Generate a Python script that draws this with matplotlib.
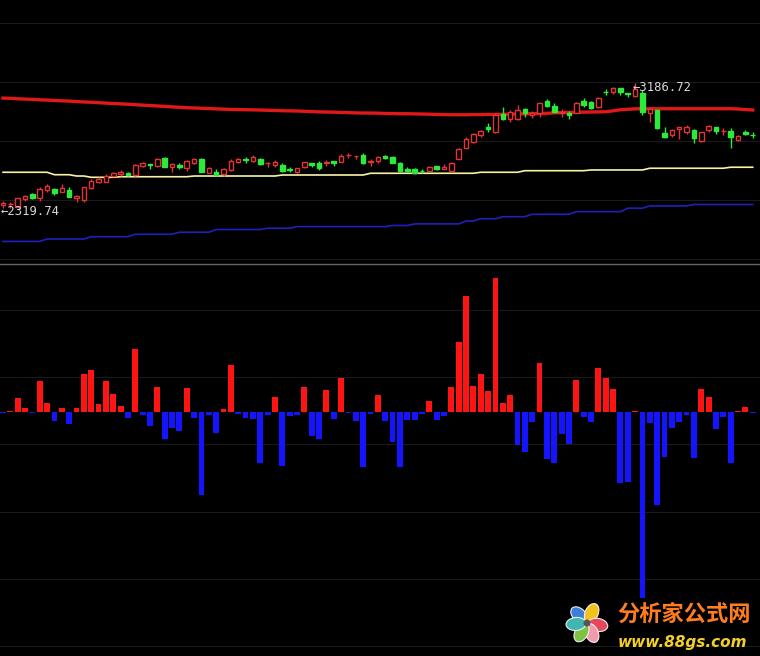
import numpy as np
import matplotlib
matplotlib.use('Agg')
import matplotlib.pyplot as plt
from matplotlib.patches import Ellipse, Circle

# candle data (price)
opens = [2341, 2344, 2327, 2382, 2417, 2391, 2445, 2452, 2433, 2445,
         2391, 2375, 2459, 2503, 2503, 2544, 2556, 2565, 2549, 2614,
         2624, 2614, 2669, 2603, 2621, 2598, 2635, 2660, 2565, 2572,
         2556, 2584, 2638, 2658, 2647, 2660, 2630, 2619, 2619, 2591,
         2572, 2603, 2635, 2630, 2630, 2649, 2642, 2686, 2679, 2688,
         2642, 2647, 2681, 2672, 2630, 2593, 2589, 2579, 2579, 2612,
         2589, 2579, 2660, 2739, 2777, 2827, 2881, 2846, 2971, 2938,
         2937, 3006, 2966, 2978, 3066, 3029, 2980, 2978, 2982, 3064,
         3055, 3020, 3129, 3129, 3152, 3121, 3098, 3117, 2978, 3001,
         2843, 2827, 2869, 2846, 2862, 2786, 2862, 2885, 2853, 2855,
         2792, 2850, 2829]
highs = [2368, 2361, 2391, 2410, 2426, 2466, 2486, 2457, 2486, 2468,
         2410, 2468, 2519, 2537, 2554, 2572, 2584, 2572, 2626, 2642,
         2626, 2665, 2676, 2633, 2635, 2654, 2665, 2665, 2607, 2589,
         2596, 2658, 2669, 2676, 2688, 2665, 2642, 2653, 2630, 2607,
         2596, 2642, 2635, 2649, 2653, 2649, 2693, 2700, 2683, 2700,
         2658, 2683, 2688, 2681, 2642, 2603, 2596, 2589, 2612, 2614,
         2624, 2642, 2735, 2811, 2839, 2862, 2909, 2978, 3024, 3001,
         3036, 3013, 2994, 3059, 3076, 3048, 3006, 2994, 3055, 3083,
         3064, 3094, 3145, 3163, 3152, 3121, 3186.72, 3140, 3013, 3006,
         2881, 2867, 2885, 2897, 2867, 2850, 2897, 2885, 2874, 2874,
         2827, 2862, 2846]
lows = [2319.74, 2323, 2325, 2370, 2380, 2371, 2433, 2410, 2429, 2394,
        2364, 2360, 2452, 2496, 2499, 2533, 2542, 2542, 2544, 2607,
        2591, 2607, 2603, 2572, 2589, 2579, 2626, 2568, 2561, 2544,
        2544, 2579, 2630, 2630, 2637, 2619, 2607, 2603, 2568, 2568,
        2565, 2598, 2607, 2584, 2614, 2612, 2637, 2665, 2660, 2626,
        2612, 2635, 2660, 2630, 2572, 2572, 2554, 2563, 2577, 2584,
        2589, 2579, 2658, 2735, 2770, 2811, 2846, 2839, 2932, 2920,
        2932, 2950, 2943, 2955, 3024, 2985, 2955, 2939, 2978, 3024,
        3008, 3013, 3105, 3110, 3105, 3089, 3094, 2966, 2920, 2869,
        2809, 2816, 2797, 2834, 2774, 2781, 2846, 2832, 2827, 2739,
        2786, 2827, 2804]
closes = [2357, 2348, 2389, 2403, 2391, 2452, 2473, 2424, 2459, 2396,
          2405, 2466, 2509, 2521, 2544, 2563, 2570, 2549, 2619, 2635,
          2621, 2660, 2607, 2626, 2603, 2647, 2660, 2572, 2596, 2549,
          2589, 2649, 2660, 2653, 2676, 2624, 2633, 2642, 2577, 2584,
          2596, 2638, 2619, 2596, 2642, 2635, 2683, 2688, 2681, 2630,
          2649, 2672, 2665, 2635, 2579, 2577, 2561, 2577, 2607, 2591,
          2603, 2635, 2730, 2799, 2832, 2855, 2867, 2966, 2937, 2989,
          3001, 2978, 2978, 3052, 3029, 2989, 2985, 2966, 3048, 3036,
          3017, 3087, 3124, 3156, 3129, 3110, 3147, 2989, 3006, 2874,
          2816, 2862, 2885, 2881, 2804, 2846, 2892, 2855, 2855, 2811,
          2820, 2832, 2825]

# overlay lines
ma_red = [3084, 3082, 3079, 3077, 3075, 3072, 3070, 3067, 3065, 3063,
          3060, 3057, 3055, 3052, 3049, 3046, 3044, 3041, 3038, 3035,
          3032, 3029, 3026, 3023, 3020, 3017, 3015, 3013, 3011, 3009,
          3007, 3005, 3004, 3003, 3002, 3001, 2999, 2998, 2996, 2995,
          2994, 2992, 2990, 2988, 2987, 2986, 2984, 2983, 2981, 2980,
          2980, 2979, 2977, 2976, 2975, 2975, 2974, 2973, 2972, 2970,
          2969, 2968, 2968, 2968, 2969, 2969, 2970, 2970, 2971, 2972,
          2973, 2974, 2975, 2976, 2978, 2981, 2983, 2984, 2985, 2986,
          2987, 2988, 2989, 2995, 3003, 3006, 3009, 3010, 3010, 3010,
          3010, 3010, 3010, 3010, 3010, 3010, 3010, 3010, 3010, 3010,
          3008, 3004, 3001]
ma_yellow = [2568, 2568, 2568, 2568, 2568, 2568, 2568, 2551, 2551, 2551,
             2542, 2542, 2533, 2533, 2533, 2533, 2537, 2537, 2537, 2537,
             2537, 2537, 2537, 2537, 2537, 2537, 2542, 2542, 2542, 2542,
             2542, 2542, 2542, 2542, 2542, 2542, 2542, 2542, 2549, 2549,
             2549, 2549, 2549, 2549, 2549, 2549, 2549, 2549, 2549, 2549,
             2561, 2561, 2561, 2561, 2561, 2561, 2561, 2561, 2561, 2561,
             2561, 2561, 2561, 2561, 2561, 2568, 2568, 2568, 2568, 2568,
             2568, 2579, 2579, 2579, 2579, 2579, 2579, 2579, 2579, 2579,
             2584, 2584, 2584, 2584, 2584, 2584, 2584, 2584, 2596, 2596,
             2596, 2596, 2596, 2596, 2596, 2596, 2596, 2596, 2596, 2603,
             2603, 2603, 2603]
ma_blue = [2087, 2087, 2087, 2087, 2087, 2087, 2104, 2104, 2104, 2104,
           2104, 2104, 2120, 2120, 2120, 2120, 2120, 2120, 2137, 2137,
           2137, 2137, 2137, 2137, 2151, 2151, 2151, 2151, 2151, 2170,
           2170, 2170, 2170, 2170, 2170, 2170, 2179, 2179, 2179, 2179,
           2190, 2190, 2190, 2190, 2190, 2190, 2190, 2190, 2190, 2190,
           2190, 2190, 2190, 2198, 2198, 2198, 2209, 2209, 2209, 2209,
           2209, 2209, 2209, 2229, 2229, 2245, 2245, 2245, 2259, 2259,
           2259, 2259, 2276, 2276, 2276, 2276, 2276, 2276, 2294, 2294,
           2294, 2294, 2294, 2294, 2294, 2318, 2318, 2318, 2334, 2334,
           2334, 2334, 2334, 2334, 2344, 2344, 2344, 2344, 2344, 2344,
           2344, 2344, 2344]

# lower indicator bars
bars = [-1.6, 1, 14, 4, -1, 31, 9, -9, 4, -12,
        4, 38, 42, 8, 31, 18, 6, -6, 63, -3,
        -14, 25, -27, -16, -19, 24, -6, -83, -3, -21,
        3, 47, -2, -6, -7, -51, -3, 15, -54, -4,
        -3, 25, -24, -27, 22, -7, 34, -1.5, -9, -55,
        -2, 17, -9, -30, -55, -8, -8, -2, 11, -8,
        -4, 25, 70, 116, 26, 38, 21, 134, 9, 17,
        -33, -40, -10, 49, -47, -51, -22, -32, 32, -5,
        -10, 44, 34, 23, -71, -70, 1, -186, -11, -93,
        -45, -16, -10, -3, -46, 23, 15, -17, -5, -51,
        1, 5, -1]

W, H = 760, 656
UP = '#e23434'
DOWN = '#2ee83a'
GRID = '#1a1a1a'

fig = plt.figure(figsize=(W / 100, H / 100), dpi=100, facecolor='black')
ax1 = fig.add_axes([0, 1 - 262 / H, 1, 262 / H])
ax2 = fig.add_axes([0, 0, 1, 392 / H])
for ax in (ax1, ax2):
    ax.set_facecolor('black')
    ax.set_xticks([])
    ax.set_yticks([])
    for s in ax.spines.values():
        s.set_visible(False)
    ax.set_xlim(-3 / 7.35, 757 / 7.35)

x = np.arange(len(closes))
o = np.array(opens); c = np.array(closes)
h = np.array(highs); l = np.array(lows)

# ---- price panel
ax1.set_ylim(1944, 3766)
for lev in [1965, 2375, 2786, 3196, 3606]:
    ax1.axhline(lev, color=GRID, lw=0.8, zorder=0)

ax1.plot(x, ma_blue, color='#2020c0', lw=1.2, zorder=1)
ax1.plot(x, ma_yellow, color='#f6f4a6', lw=1.2, zorder=1)
ax1.plot(x, ma_red, color='#e01818', lw=2.4, zorder=1)

up = c >= o
cols = np.where(up, UP, DOWN)
ax1.vlines(x, l, h, colors=cols, lw=1, zorder=2)
body_lo = np.minimum(o, c)
body_h = np.maximum(np.abs(c - o), 3)
ax1.bar(x[up], body_h[up], bottom=body_lo[up], width=0.62,
        facecolor='black', edgecolor=UP, linewidth=1, zorder=3)
ax1.bar(x[~up], body_h[~up], bottom=body_lo[~up], width=0.62,
        facecolor=DOWN, edgecolor=DOWN, linewidth=1, zorder=3)

# high / low labels
i_lo = int(np.argmin(l)); i_hi = int(np.argmax(h))
for i, v, dy in [(i_lo, l[i_lo], -2.5), (i_hi, h[i_hi], -3)]:
    ax1.annotate('\u2190' + f'{v:.2f}', xy=(i, v), xytext=(-2, dy),
                 textcoords='offset points', ha='left', va='center',
                 color='#d6d6d6', fontsize=8.8, family='DejaVu Sans Mono', zorder=5)

# ---- indicator panel
ax2.set_ylim(-244.3, 147.7)
ax2.spines['top'].set_visible(True)
ax2.spines['top'].set_color('#666666')
ax2.spines['top'].set_linewidth(1)
for lev in [101.7, 34.7, -32.3, -100.3, -167.3, -234.3]:
    ax2.axhline(lev, color=GRID, lw=0.8, zorder=0)
b = np.array(bars)
ax2.bar(x, b, width=0.8, color=np.where(b >= 0, '#ff1414', '#1414ff'), zorder=2)

# ---- watermark logo
lax = fig.add_axes([562 / W, 1 - 648 / H, 50 / W, 50 / H])
lax.set_xlim(-25, 25); lax.set_ylim(-25, 25)
lax.set_aspect('equal'); lax.axis('off')
petals = [(135, '#3d7fd8'), (65, '#f2c21b'), (-10, '#e8475a'),
          (-65, '#f29aa8'), (-120, '#7cc243'), (185, '#3fb6b0')]
for ang, col in petals:
    a = np.radians(ang)
    lax.add_patch(Ellipse((11 * np.cos(a), 11 * np.sin(a)), 20, 13, angle=ang,
                          facecolor=col, edgecolor='#f0f0f0', lw=0.8))
lax.add_patch(Circle((0, 0), 3.5, facecolor='#555555', edgecolor='none'))

fig.text(617 / W, 1 - 614 / H, '分析家公式网', ha='left', va='center',
         fontsize=16, fontweight='bold', color='#ff7d1e',
         family=['Noto Sans CJK SC', 'DejaVu Sans'])
fig.text(618 / W, 1 - 642 / H, 'www.88gs.com', ha='left', va='center',
         fontsize=11, fontweight='bold', style='italic', color='#f2cf2a',
         family='DejaVu Sans')

fig.savefig('out.png', dpi=100, facecolor='black')
